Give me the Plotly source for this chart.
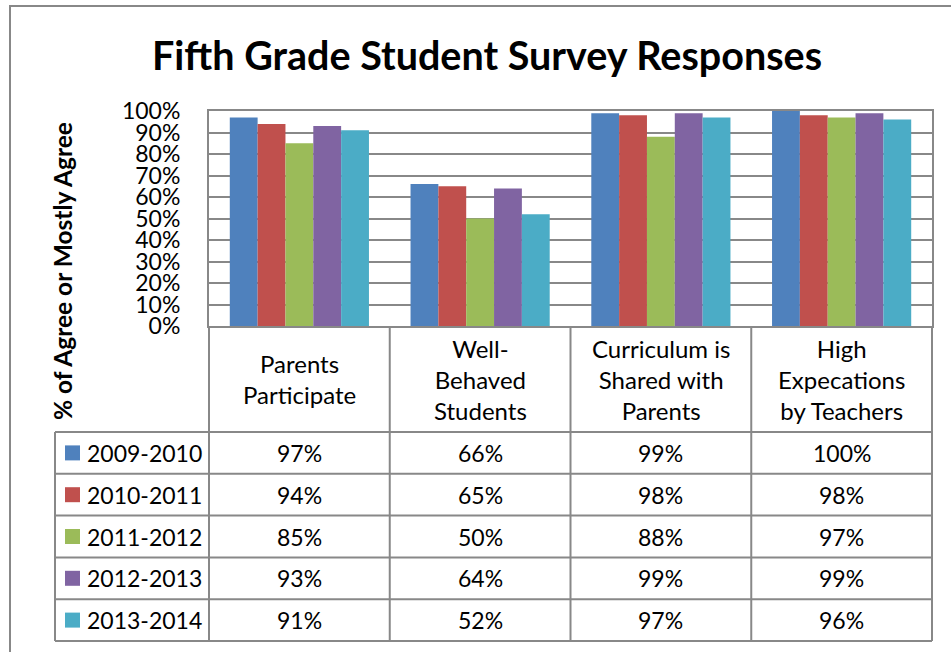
import plotly.graph_objects as go

# ---------------- data ----------------
categories = ["Parents Participate", "Well-Behaved Students",
              "Curriculum is Shared with Parents", "High Expecations by Teachers"]
category_labels = ["Parents<br>Participate", "Well-<br>Behaved<br>Students",
                   "Curriculum is<br>Shared with<br>Parents", "High<br>Expecations<br>by Teachers"]
series_names = ["2009-2010", "2010-2011", "2011-2012", "2012-2013", "2013-2014"]
v_2009_2010 = [97, 66, 99, 100]
v_2010_2011 = [94, 65, 98, 98]
v_2011_2012 = [85, 50, 88, 97]
v_2012_2013 = [93, 64, 99, 99]
v_2013_2014 = [91, 52, 97, 96]
series_values = [v_2009_2010, v_2010_2011, v_2011_2012, v_2012_2013, v_2013_2014]
colors = ["#4F81BD", "#C0504D", "#9BBB59", "#8064A2", "#4BACC6"]
y_ticks = list(range(0, 101, 10))
y_tick_text = [f"{t}%" for t in y_ticks]

# ---------------- geometry (pixels) ----------------
W, H = 951, 652
PL, PR, PT, PB = 209, 932, 111, 326  # plot area
FONT = "Lato"
GRID = "#888888"


def px(x):
    return (x - PL) / (PR - PL)


def py(y):
    return (PB - y) / (PB - PT)


fig = go.Figure()
for name, vals, col in zip(series_names, series_values, colors):
    fig.add_trace(go.Bar(x=categories, y=vals, name=name, marker_color=col,
                         marker_line_width=0, showlegend=False))

fig.update_layout(
    width=W, height=H,
    margin=dict(l=PL, r=W - PR, t=PT, b=H - PB, pad=0, autoexpand=False),
    paper_bgcolor="white", plot_bgcolor="white",
    barmode="group", bargap=0.23, bargroupgap=0,
    font=dict(family=FONT, color="black"),
    xaxis=dict(showticklabels=False, ticks="", showgrid=False,
               showline=True, linecolor=GRID, linewidth=2, mirror=True,
               range=[-0.5, 3.5], fixedrange=True),
    yaxis=dict(range=[0, 100], tickvals=y_ticks, ticktext=y_tick_text,
               showgrid=True, gridcolor=GRID, gridwidth=2,
               showline=True, linecolor=GRID, linewidth=2, mirror=True,
               ticks="", ticklabelstandoff=22,
               tickfont=dict(family=FONT, size=23, color="black"),
               zeroline=False, fixedrange=True),
)

shapes = []
annotations = []

# outer chart border
shapes.append(dict(type="rect", xref="paper", yref="paper",
                   x0=px(10), x1=px(990), y0=py(700), y1=py(6),
                   line=dict(color=GRID, width=2), fillcolor="rgba(0,0,0,0)"))

# table geometry
n_cat = len(categories)
col_w = (PR - PL) / n_cat
col_x = [PL + i * col_w for i in range(n_cat + 1)]
header_bottom = 432
row_h = (641 - header_bottom) / len(series_names)
row_y = [header_bottom + i * row_h for i in range(len(series_names) + 1)]
legend_left = 55

for y in row_y:
    shapes.append(dict(type="line", xref="paper", yref="paper",
                       x0=px(legend_left), x1=px(PR), y0=py(y), y1=py(y),
                       line=dict(color=GRID, width=2)))
shapes.append(dict(type="line", xref="paper", yref="paper",
                   x0=px(legend_left), x1=px(legend_left), y0=py(row_y[0]), y1=py(row_y[-1]),
                   line=dict(color=GRID, width=2)))
for x in col_x:
    shapes.append(dict(type="line", xref="paper", yref="paper",
                       x0=px(x), x1=px(x), y0=py(PB), y1=py(row_y[-1]),
                       line=dict(color=GRID, width=2)))

for i, lab in enumerate(category_labels):
    annotations.append(dict(xref="paper", yref="paper",
                            x=px(col_x[i] + col_w / 2), y=py((PB + header_bottom) / 2),
                            text=lab, showarrow=False, align="center",
                            xanchor="center", yanchor="middle",
                            font=dict(family=FONT, size=24, color="black")))

for r, (name, vals, col) in enumerate(zip(series_names, series_values, colors)):
    yc = (row_y[r] + row_y[r + 1]) / 2
    shapes.append(dict(type="rect", xref="paper", yref="paper",
                       x0=px(65), x1=px(80), y0=py(yc + 7.5), y1=py(yc - 7.5),
                       fillcolor=col, line=dict(width=0)))
    annotations.append(dict(xref="paper", yref="paper", x=px(85), y=py(yc),
                            text=name, showarrow=False, xanchor="left", yanchor="middle",
                            font=dict(family=FONT, size=23, color="black")))
    for i, v in enumerate(vals):
        annotations.append(dict(xref="paper", yref="paper",
                                x=px(col_x[i] + col_w / 2), y=py(yc),
                                text=f"{v}%", showarrow=False,
                                xanchor="center", yanchor="middle",
                                font=dict(family=FONT, size=23, color="black")))

annotations.append(dict(xref="paper", yref="paper", x=px(487), y=py(55),
                        text="<b>Fifth Grade Student Survey Responses</b>",
                        showarrow=False, xanchor="center", yanchor="middle",
                        font=dict(family=FONT, size=39.5, color="black")))
annotations.append(dict(xref="paper", yref="paper", x=px(62), y=py(271),
                        text="<b>% of Agree or Mostly Agree</b>", textangle=-90,
                        showarrow=False, xanchor="center", yanchor="middle",
                        font=dict(family=FONT, size=24.5, color="black")))

fig.update_layout(shapes=shapes, annotations=annotations)
fig.write_html("out.html", config={"displayModeBar": False},
               post_script="document.body.style.margin='0px';document.body.style.overflow='hidden';")
